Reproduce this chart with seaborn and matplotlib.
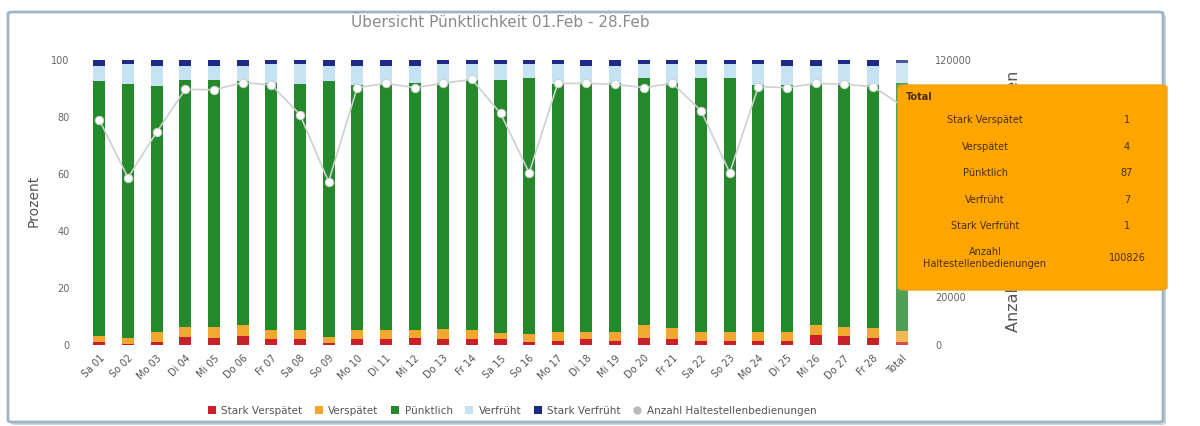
import numpy as np
import matplotlib
matplotlib.use("Agg")
import matplotlib.pyplot as plt
from matplotlib.patches import FancyBboxPatch
from matplotlib.lines import Line2D
from matplotlib.patches import Patch
import seaborn as sns

# =============================================================================
# Data
# =============================================================================
days = ["Sa 01", "So 02", "Mo 03", "Di 04", "Mi 05", "Do 06", "Fr 07", "Sa 08",
        "So 09", "Mo 10", "Di 11", "Mi 12", "Do 13", "Fr 14", "Sa 15", "So 16",
        "Mo 17", "Di 18", "Mi 19", "Do 20", "Fr 21", "Sa 22", "So 23", "Mo 24",
        "Di 25", "Mi 26", "Do 27", "Fr 28", "Total"]

stark_verspaetet = [1, 0.5, 1.2, 2.7, 2.5, 3, 2, 2, 0.7, 2, 2, 2.5, 2, 2, 2,
                    1, 1.5, 2, 1.5, 2.5, 2, 1.5, 1.5, 1.5, 1.5, 3.5, 3, 2.5, 1]
verspaetet = [2, 2, 3.4, 3.7, 3.9, 3.9, 3.2, 3.2, 2, 3.2, 3.2, 2.7, 3.6, 3.2, 2.2,
              2.8, 3.1, 2.6, 3.1, 4.4, 3.8, 3.1, 3.1, 3.1, 3.1, 3.4, 3.4, 3.3, 4]
puenktlich = [89.6, 89.2, 86.3, 86.5, 86.5, 85.7, 86.8, 86.5, 89.9, 86.1, 86.5,
              86.8, 86.4, 87.7, 88.7, 89.7, 87.1, 87.1, 87.4, 86.6, 86.2, 88.9,
              88.9, 86.7, 86.7, 85.1, 85.6, 85.5, 87]
verfrueht = [5.4, 6.8, 7.1, 5.1, 5.1, 5.4, 6.5, 6.8, 5.4, 6.7, 6.3, 6, 6.5, 5.6,
             5.6, 5, 6.8, 6.3, 6, 5, 6.5, 5, 5, 7.2, 6.7, 6, 6.5, 6.7, 7]
stark_verfrueht = [2, 1.5, 2, 2, 2, 2, 1.5, 1.5, 2, 2, 2, 2, 1.5, 1.5, 1.5, 1.5,
                   1.5, 2, 2, 1.5, 1.5, 1.5, 1.5, 1.5, 2, 2, 1.5, 2, 1]
anzahl = [94700, 70400, 89600, 107600, 107400, 110400, 109500, 97000, 68750,
          108300, 110100, 108300, 110100, 111800, 97500, 72500, 110100, 110100,
          109700, 108300, 110100, 98600, 72500, 108750, 108300, 110100, 109700,
          108750, 100826]

series_names = ["Stark Verspätet", "Verspätet", "Pünktlich", "Verfrüht", "Stark Verfrüht"]
series_colors = ["#c8202a", "#f2a72e", "#23892a", "#c5e3f2", "#1f2a86"]
series_values = [stark_verspaetet, verspaetet, puenktlich, verfrueht, stark_verfrueht]
line_label = "Anzahl Haltestellenbedienungen"
right_ticks = [0, 20000, 40000, 60000, 80000, 100000, 120000]
# labels 40000..100000 sit behind the tooltip in the reference
right_ticklabels = ["0", "20000", "", "", "", "", "120000"]

# =============================================================================
# Figure
# =============================================================================
sns.set_style("white")
plt.rcParams['font.family'] = ['DejaVu Sans']

fig = plt.figure(figsize=(12, 4.26), dpi=100)

# outer frame of the chart widget (with a soft shadow)
shadow = FancyBboxPatch((11 / 1200, 1 - 425 / 426), 1155 / 1200, 410 / 426,
                        boxstyle="round,pad=0,rounding_size=0.004",
                        transform=fig.transFigure, facecolor="#c9d3db",
                        edgecolor="none", zorder=-6)
fig.add_artist(shadow)
frame = FancyBboxPatch((8 / 1200, 1 - 422 / 426), 1155 / 1200, 410 / 426,
                       boxstyle="round,pad=0,rounding_size=0.004",
                       transform=fig.transFigure, facecolor="white",
                       edgecolor="#9fb4c4", linewidth=2.0, zorder=-5)
fig.add_artist(frame)

ax = fig.add_axes([85 / 1200, 1 - 345 / 426, 831 / 1200, 288 / 426])
ax.patch.set_alpha(0)
x = np.arange(len(days))

bottom = np.zeros(len(days))
for name, vals, col in zip(series_names, series_values, series_colors):
    sns.barplot(x=days, y=vals, bottom=bottom, color=col, width=0.42,
                ax=ax, linewidth=0, saturation=1, legend=False)
    bottom += np.array(vals)

# lighter highlight on the hovered Total bar
for bar in ax.patches:
    if abs(bar.get_x() + bar.get_width() / 2 - (len(days) - 1)) < 0.01:
        bar.set_alpha(0.8)

ax.set_xlim(-0.5, len(days) - 0.5)
ax.set_ylim(0, 101)
ax.set_yticks([0, 20, 40, 60, 80, 100])
ax.set_ylabel("Prozent", fontsize=10, color="#555555", labelpad=8)
ax.set_xticks(x)
ax.set_xticklabels(days, rotation=45, ha="right", rotation_mode="anchor",
                   fontsize=7, color="#555555")
ax.set_xticks(x + 0.5, minor=True)
ax.tick_params(axis="x", which="major", length=0, pad=6)
ax.tick_params(axis="x", which="minor", length=2, color="#aac4e8", width=1.5)
ax.tick_params(axis="y", length=0, labelsize=7, labelcolor="#666666", pad=11)
for s in ax.spines.values():
    s.set_visible(False)

# secondary axis with line
ax2 = ax.twinx()
sns.lineplot(x=x, y=anzahl, ax=ax2, color="#cfcfcf", linewidth=1.2,
             marker="o", markersize=6, markerfacecolor="white",
             markeredgecolor="#d0d0d0", legend=False)
ax2.set_ylim(0, 120000 * 1.01)
ax2.set_yticks(right_ticks)
ax2.set_yticklabels(right_ticklabels)
ax2.tick_params(axis="y", length=0, labelsize=7, labelcolor="#666666", pad=14)
ax2.set_ylabel(line_label, fontsize=11.5, color="#555555", labelpad=24)
for s in ax2.spines.values():
    s.set_visible(False)

fig.text(500 / 1200, 1 - 22 / 426, "Übersicht Pünktlichkeit 01.Feb - 28.Feb",
         ha="center", va="center", fontsize=11, color="#8a8a8a")

# legend
handles = [Patch(facecolor=c, edgecolor="none") for c in series_colors]
handles.append(Line2D([], [], linestyle="none", marker="o", markersize=5,
                      markerfacecolor="#bbbbbb", markeredgecolor="#bbbbbb"))
fig.legend(handles, series_names + [line_label], loc="center",
           bbox_to_anchor=(512 / 1200, 1 - 411 / 426), ncol=6, frameon=False,
           fontsize=7.5, labelcolor="#555555", handlelength=0.8,
           handleheight=0.8, columnspacing=1.2, handletextpad=0.5)

# tooltip for the Total bar
tip = FancyBboxPatch((898 / 1200, 1 - 290 / 426), 269 / 1200, 205 / 426,
                     boxstyle="round,pad=0,rounding_size=0.006",
                     transform=fig.transFigure, facecolor="#ffa500",
                     edgecolor="#f0a020", linewidth=1, zorder=20)
fig.add_artist(tip)
fig.text(906 / 1200, 1 - 97 / 426, "Total", fontsize=7, fontweight="bold",
         color="#4a3000", va="center", zorder=21)
row_y = [120, 147, 173, 200, 226, 258]
tip_labels = series_names + ["Anzahl\nHaltestellenbedienungen"]
tip_values = [f"{v[-1]:.0f}" for v in series_values] + [f"{anzahl[-1]}"]
for yy, lab, val in zip(row_y, tip_labels, tip_values):
    fig.text(985 / 1200, 1 - yy / 426, lab, fontsize=7, color="#4a3000",
             ha="center", va="center", zorder=21, linespacing=1.3)
    fig.text(1127 / 1200, 1 - yy / 426, val, fontsize=7, color="#4a3000",
             ha="center", va="center", zorder=21)

fig.savefig("out.png", dpi=100)
